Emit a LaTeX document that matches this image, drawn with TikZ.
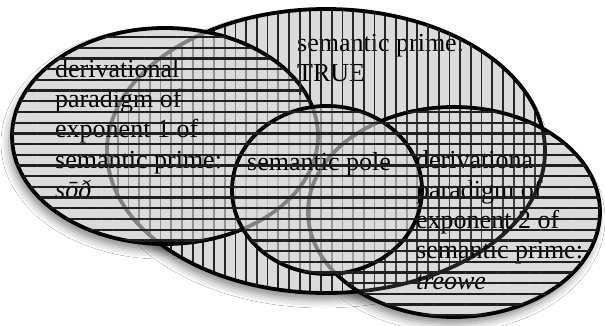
\documentclass[tikz,border=0pt]{standalone}
\usepackage{fontspec}
\setmainfont{Liberation Serif}
\usetikzlibrary{patterns.meta,shadows.blur}
\newcommand\BigE{(326,151) ellipse [x radius=219, y radius=142]}
\newcommand\LeftE{(165,136) ellipse [x radius=153, y radius=108]}
\newcommand\RightE{(454,212) ellipse [x radius=146, y radius=105]}
\newcommand\PoleE{(327,190) ellipse [x radius=95, y radius=84]}
\begin{document}
\begin{tikzpicture}[x=1pt,y=-1pt,
  outline/.style={line width=3.8pt,draw=black},
  hlines/.style={pattern={Lines[angle=0,distance=10.7pt,line width=2.3pt]},pattern color=black!88},
  vlines/.style={pattern={Lines[angle=90,distance=10.7pt,line width=1.8pt]},pattern color=black!85},
  basefill/.style={fill=black!14},
  veil/.style={fill=black!14,fill opacity=#1},
  lbl/.style={anchor=base west,inner sep=0pt,font=\fontsize{26}{30}\selectfont},
  shade/.style={blur shadow={shadow xshift=-3pt,shadow yshift=-7pt,shadow blur radius=8pt,shadow opacity=45}}
]
\useasboundingbox (0,0) rectangle (605,326);
\fill[white] (0,0) rectangle (605,326);
% shadows
\path[shade] \BigE;
\path[shade] \LeftE;
\path[shade] \RightE;
% base fills
\fill[basefill] \BigE;
\fill[basefill] \LeftE;
\fill[basefill] \RightE;
% big ellipse: semantic prime
\fill[vlines] \BigE;
\draw[outline] \BigE;
% left ellipse
\fill[veil=0.6] \LeftE;
\fill[hlines] \LeftE;
\draw[outline] \LeftE;
% right ellipse
\fill[veil=0.15] \RightE;
\fill[hlines] \RightE;
\draw[outline] \RightE;
% semantic pole
\fill[veil=0.6] \PoleE;
\fill[hlines] \PoleE;
\draw[outline] \PoleE;
% texts
\node[lbl] (p1) at (297,52) {semantic prime:};
\node[lbl] (p2) at (297,82) {TRUE};
\node[lbl] (a1) at (55,78) {derivational};
\node[lbl] (a2) at (55,108) {paradigm of};
\node[lbl] (a3) at (55,138) {exponent 1 of};
\node[lbl] (a4) at (55,168) {semantic prime:};
\node[lbl] (a5) at (55,198) {\itshape sōð};
\node[lbl] (sp) at (247,170) {semantic pole};
\node[lbl] (b1) at (416,168) {derivationa};
\node[lbl] (b2) at (416,198) {paradigm of};
\node[lbl] (b3) at (416,228) {exponent 2 of};
\node[lbl] (b4) at (416,258) {semantic prime:};
\node[lbl] (b5) at (416,289) {\itshape treowe};
% hatching over the texts
\fill[hlines] \LeftE;
\fill[hlines] \RightE;
\fill[hlines] \PoleE;
\begin{scope}
\clip (290,25) rectangle (480,95);
\fill[vlines] \BigE;
\end{scope}
\end{tikzpicture}
\end{document}
